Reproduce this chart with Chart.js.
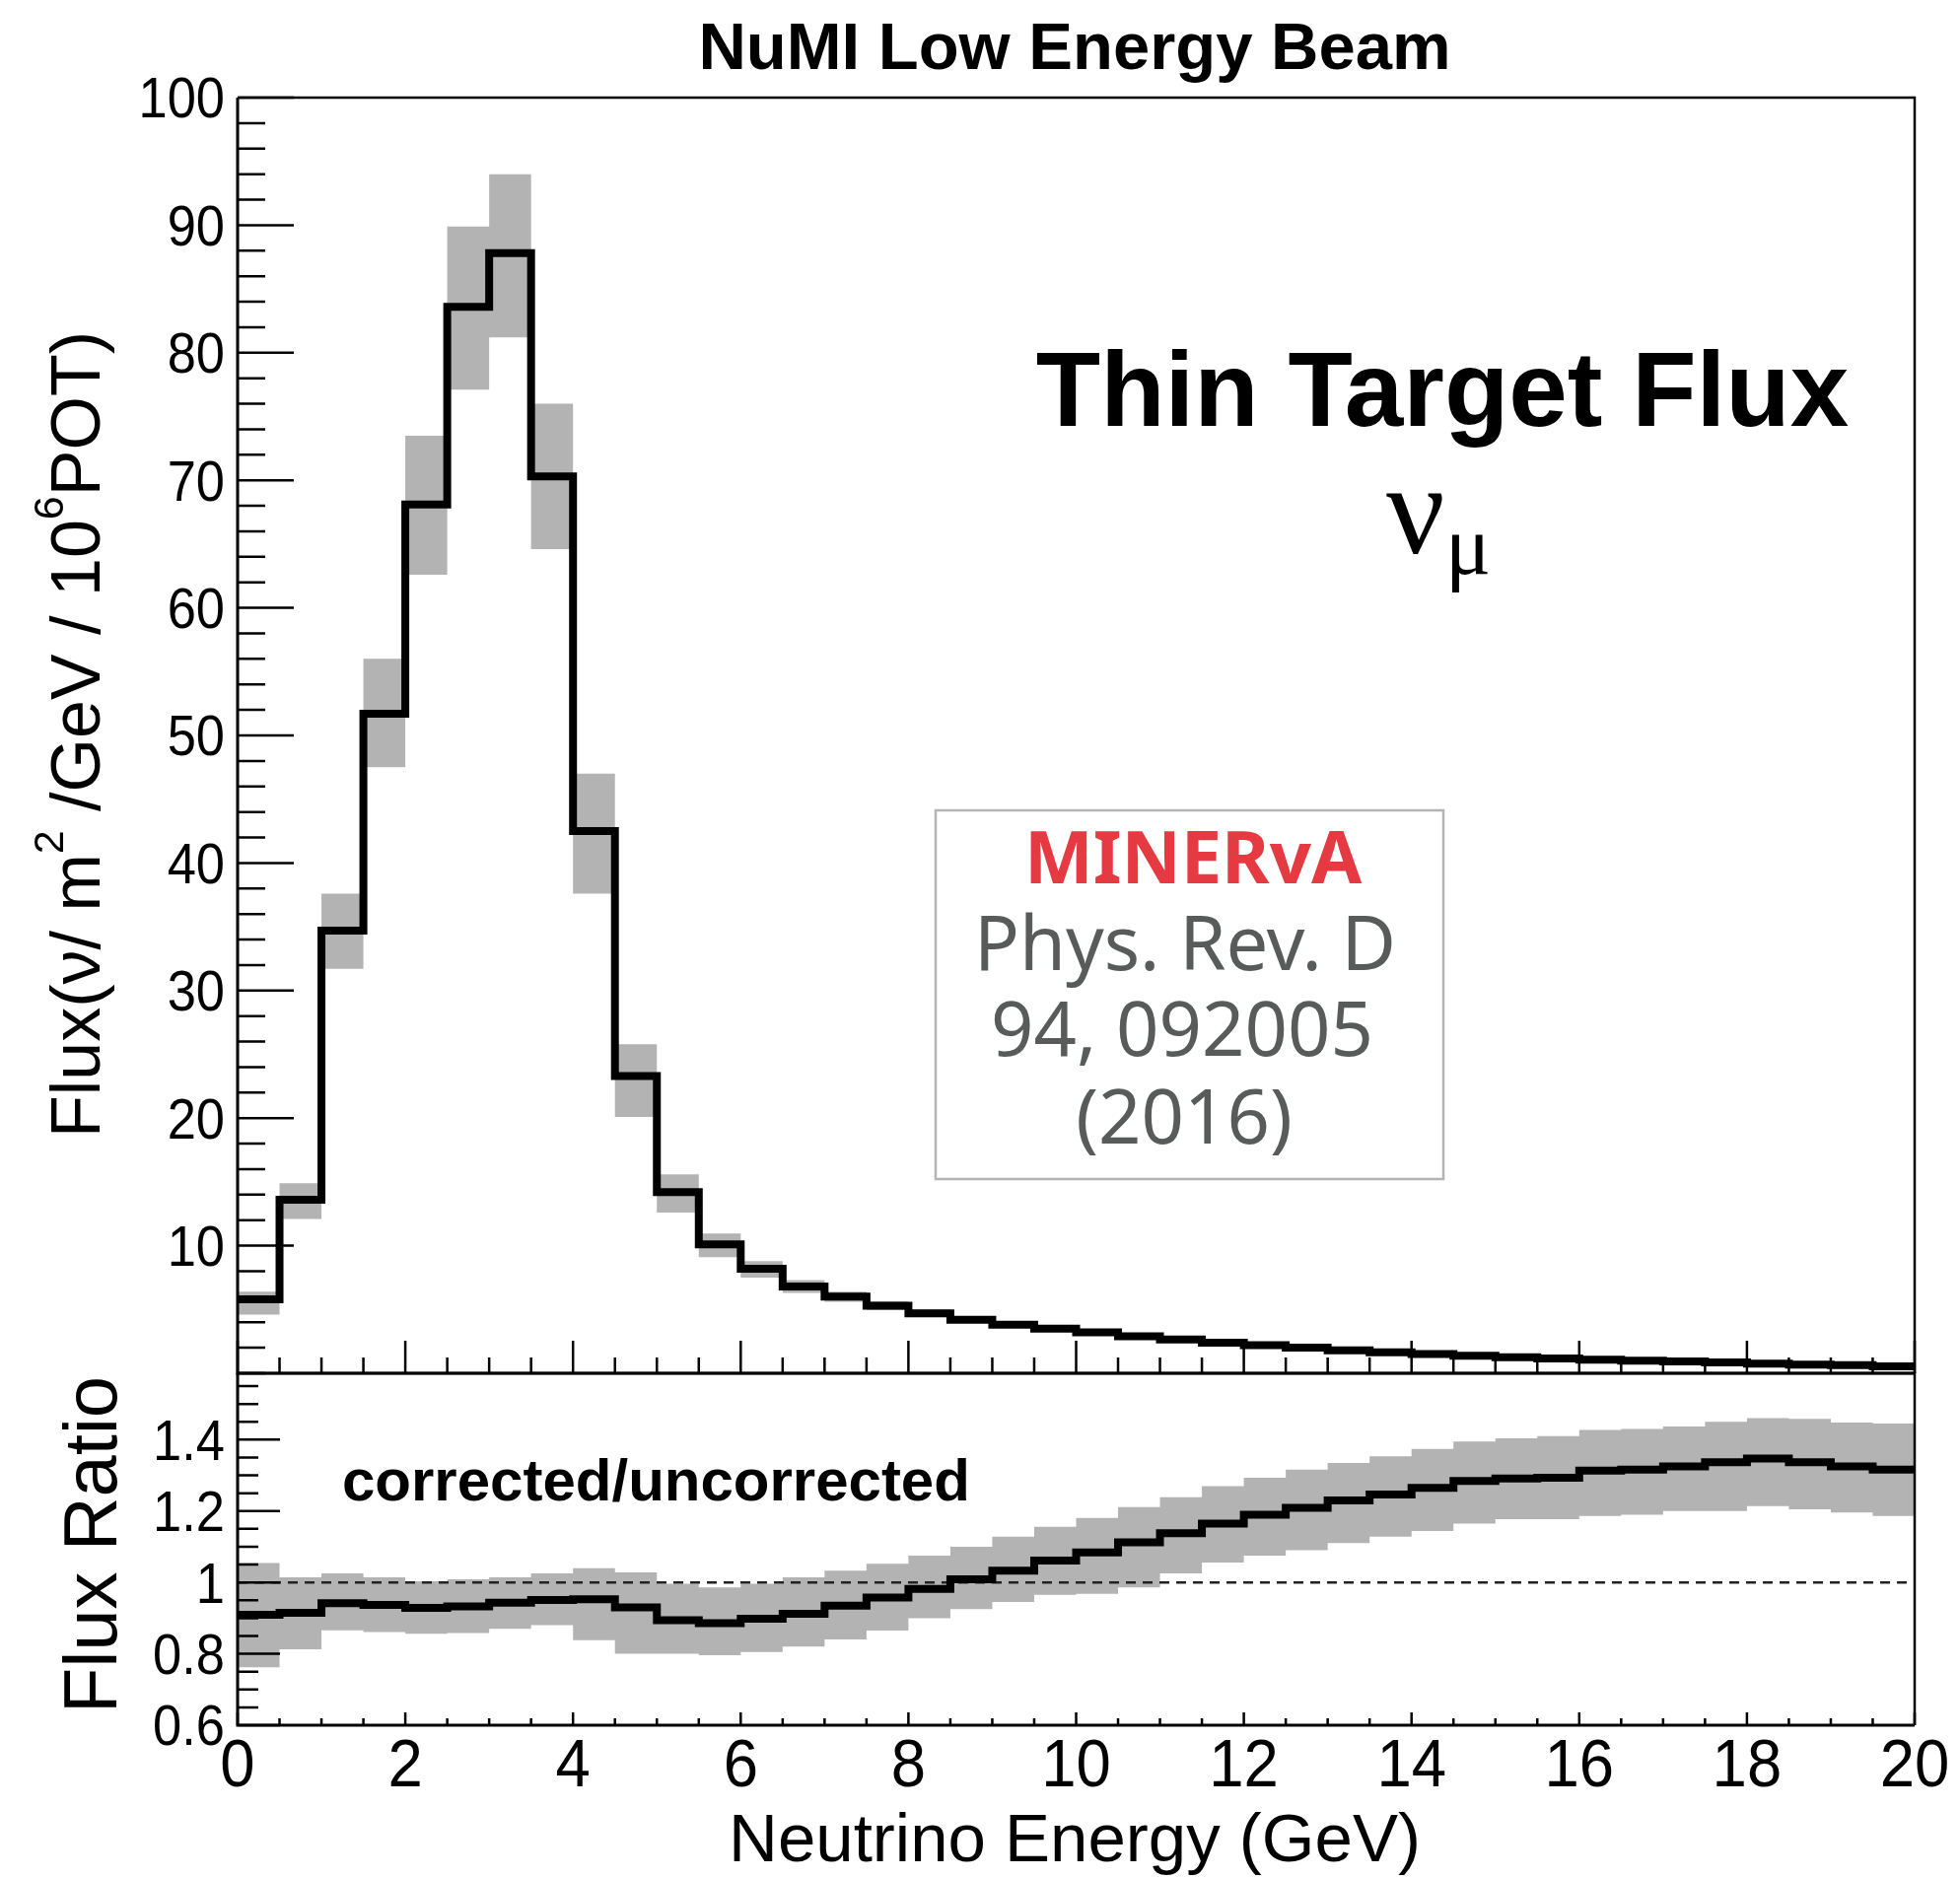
<!DOCTYPE html>
<html>
<head>
<meta charset="utf-8">
<title>NuMI Low Energy Beam</title>
<script src="https://cdn.jsdelivr.net/npm/chart.js@4.4.1/dist/chart.umd.min.js"></script>
<style>
  html, body { margin: 0; padding: 0; background: #fff; overflow: hidden; }
  #wrap { position: relative; width: 1988px; height: 1905px; }
  canvas { position: absolute; left: 0; top: 0; }
</style>
</head>
<body>
<div id="wrap">
  <canvas id="fluxChart" width="1988" height="1905"></canvas>
  <canvas id="ratioChart" width="1988" height="1905"></canvas>
</div>
<script>
// bin edges (GeV), 0.5 GeV bins
const energyEdges = [0, 0.5, 1, 1.5, 2, 2.5, 3, 3.5, 4, 4.5, 5, 5.5, 6, 6.5, 7, 7.5, 8, 8.5, 9, 9.5,
  10, 10.5, 11, 11.5, 12, 12.5, 13, 13.5, 14, 14.5, 15, 15.5, 16, 16.5, 17, 17.5, 18, 18.5, 19, 19.5, 20];

// nu_mu flux per bin, with the error band
const fluxValues = [5.8, 13.6, 34.7, 51.7, 68.1, 83.6, 87.8, 70.3, 42.5, 23.3,
  14.2, 10.1, 8.2, 6.8, 6.0, 5.3, 4.7, 4.2, 3.8, 3.5,
  3.2, 2.9, 2.65, 2.4, 2.2, 2.0, 1.8, 1.65, 1.5, 1.38,
  1.25, 1.15, 1.07, 0.98, 0.92, 0.85, 0.75, 0.68, 0.63, 0.55];
const fluxLow = [4.6, 12.1, 31.7, 47.5, 62.6, 77.1, 81.2, 64.6, 37.6, 20.1,
  12.6, 9.1, 7.5, 6.3, 5.6, 4.95, 4.4, 3.95, 3.6, 3.3,
  3.0, 2.75, 2.5, 2.27, 2.08, 1.9, 1.7, 1.56, 1.42, 1.3,
  1.18, 1.08, 1.0, 0.92, 0.86, 0.79, 0.69, 0.63, 0.58, 0.5];
const fluxHigh = [6.4, 14.9, 37.6, 56.0, 73.5, 89.9, 94.0, 76.0, 47.0, 25.8,
  15.6, 10.95, 8.8, 7.3, 6.4, 5.65, 5.0, 4.45, 4.0, 3.7,
  3.4, 3.05, 2.8, 2.53, 2.32, 2.1, 1.9, 1.74, 1.58, 1.46,
  1.32, 1.22, 1.14, 1.04, 0.98, 0.91, 0.81, 0.73, 0.68, 0.6];

// corrected / uncorrected ratio per bin
const ratioValues = [0.909, 0.915, 0.942, 0.937, 0.929, 0.933, 0.943, 0.951, 0.953, 0.930,
  0.894, 0.886, 0.898, 0.912, 0.935, 0.958, 0.982, 1.009, 1.033, 1.061,
  1.084, 1.112, 1.138, 1.165, 1.190, 1.209, 1.230, 1.246, 1.265, 1.284,
  1.291, 1.293, 1.313, 1.316, 1.325, 1.337, 1.347, 1.337, 1.325, 1.316];
const ratioLow = [0.762, 0.813, 0.866, 0.861, 0.856, 0.858, 0.870, 0.880, 0.838, 0.800,
  0.800, 0.796, 0.805, 0.820, 0.840, 0.865, 0.900, 0.925, 0.945, 0.965,
  0.968, 0.986, 1.025, 1.056, 1.075, 1.090, 1.110, 1.128, 1.144, 1.165,
  1.177, 1.177, 1.186, 1.190, 1.200, 1.200, 1.214, 1.205, 1.196, 1.186];
const ratioHigh = [1.054, 1.014, 1.025, 1.014, 1.003, 1.009, 1.014, 1.025, 1.040, 1.028,
  0.996, 0.986, 0.996, 1.014, 1.033, 1.052, 1.075, 1.100, 1.128, 1.156,
  1.181, 1.211, 1.239, 1.270, 1.293, 1.316, 1.335, 1.353, 1.374, 1.395,
  1.404, 1.410, 1.427, 1.430, 1.437, 1.450, 1.460, 1.458, 1.448, 1.445];
const unityLine = [1, 1];

// axis labels
const energyTicks = [0, 2, 4, 6, 8, 10, 12, 14, 16, 18, 20];
const fluxTicks = [10, 20, 30, 40, 50, 60, 70, 80, 90, 100];
const ratioTicks = [0.6, 0.8, 1, 1.2, 1.4];

const SANS = "'Liberation Sans', Arial, Helvetica, sans-serif";
const BAND = '#b3b3b3';

// histogram -> points at left bin edges, closed at the last edge
// (chart.js 'before' = horizontal run first, then the vertical step)
function stepPoints(vals) {
  const pts = vals.map((v, i) => ({ x: energyEdges[i], y: v }));
  pts.push({ x: energyEdges[vals.length], y: vals[vals.length - 1] });
  return pts;
}

function txt(ctx, s, x, y, font, align, sx, color) {
  ctx.save();
  ctx.font = font;
  ctx.fillStyle = color || '#000';
  ctx.textAlign = align || 'left';
  ctx.textBaseline = 'alphabetic';
  ctx.translate(x, y);
  ctx.scale(sx || 1, 1);
  ctx.fillText(s, 0, 0);
  ctx.restore();
}

// vertical title, read bottom to top; parts may be raised (superscripts)
function vtitle(ctx, parts, x, y) {
  ctx.save();
  ctx.translate(x, y);
  ctx.rotate(-Math.PI / 2);
  ctx.fillStyle = '#000';
  ctx.textBaseline = 'alphabetic';
  ctx.textAlign = 'left';
  let cx = 0;
  for (const p of parts) {
    ctx.font = p.font;
    ctx.fillText(p.t, cx, -(p.rise || 0));
    cx += ctx.measureText(p.t).width;
  }
  ctx.restore();
}

function isMajor(v, list) {
  return list.some(m => Math.abs(m - v) < 1e-6);
}

// ROOT-style frame: inward ticks on left and bottom, labels outside
const frame = {
  id: 'frame',
  afterDatasetsDraw(chart, args, o) {
    const { ctx, chartArea: a, scales: { x, y } } = chart;
    ctx.save();
    ctx.strokeStyle = '#000';
    ctx.lineCap = 'butt';
    ctx.lineWidth = 2.5;
    ctx.beginPath();
    ctx.moveTo(a.left, a.top);
    ctx.lineTo(a.right, a.top);
    ctx.lineTo(a.right, a.bottom);
    ctx.stroke();
    ctx.lineWidth = 3;
    ctx.beginPath();
    ctx.moveTo(a.left, a.top);
    ctx.lineTo(a.left, a.bottom);
    ctx.lineTo(a.right, a.bottom);
    ctx.stroke();

    ctx.lineWidth = 2.5;
    ctx.beginPath();
    const nx = Math.round((x.max - x.min) / o.xStep);
    for (let i = 0; i <= nx; i++) {
      const v = x.min + i * o.xStep;
      const len = isMajor(v, energyTicks) ? o.xLen[0] : o.xLen[1];
      const px = x.getPixelForValue(v);
      ctx.moveTo(px, a.bottom);
      ctx.lineTo(px, a.bottom - len);
    }
    const ny = Math.floor((y.max - y.min) / o.yStep + 1e-6);
    for (let i = 0; i <= ny; i++) {
      const v = y.min + i * o.yStep;
      const len = isMajor(v, o.yMajor) ? o.yLen[0] : o.yLen[1];
      const py = y.getPixelForValue(v);
      ctx.moveTo(a.left, py);
      ctx.lineTo(a.left + len, py);
    }
    ctx.stroke();
    ctx.restore();

    o.yMajor.forEach(v => {
      txt(ctx, String(v), a.left - 13, y.getPixelForValue(v) + 0.358 * 57,
        '57px ' + SANS, 'right', 0.92);
    });
    if (o.xLabels) {
      energyTicks.forEach(v => {
        txt(ctx, String(v), x.getPixelForValue(v), a.bottom + 62, '69px ' + SANS, 'center', 0.92);
      });
    }
  }
};

const fluxText = {
  id: 'fluxText',
  afterDraw(chart) {
    const ctx = chart.ctx;
    txt(ctx, 'NuMI Low Energy Beam', 1090, 70, 'bold 67px ' + SANS, 'center');
    vtitle(ctx, [
      { t: 'Flux(\u03bd/ m', font: '70px ' + SANS },
      { t: '2', font: '43px ' + SANS, rise: 37 },
      { t: ' /GeV / 10', font: '70px ' + SANS },
      { t: '6', font: '43px ' + SANS, rise: 37 },
      { t: 'POT)', font: '70px ' + SANS }
    ], 101, 1154);
    txt(ctx, 'Thin Target Flux', 1463, 432, 'bold 107px ' + SANS, 'center');
    txt(ctx, '\u03bd', 1406, 561, "132px 'Liberation Serif', 'Times New Roman', serif", 'left');
    txt(ctx, '\u03bc', 1466, 582, "86px 'Liberation Serif', 'Times New Roman', serif", 'left');

    ctx.save();
    ctx.strokeStyle = '#b5b5b5';
    ctx.lineWidth = 2.5;
    ctx.strokeRect(949, 822, 515, 374);
    ctx.restore();
    const noto = "'Noto Sans', 'Open Sans', sans-serif";
    txt(ctx, 'MINERvA', 1210, 896, 'bold 74px ' + noto, 'center', 1, '#e63a42');
    txt(ctx, 'Phys. Rev. D', 1202, 984, '76px ' + noto, 'center', 1, '#595b5b');
    txt(ctx, '94, 092005', 1199, 1071, '76px ' + noto, 'center', 1, '#595b5b');
    txt(ctx, '(2016)', 1201, 1160, '76px ' + noto, 'center', 1, '#595b5b');
  }
};

const ratioText = {
  id: 'ratioText',
  afterDraw(chart) {
    const ctx = chart.ctx;
    vtitle(ctx, [{ t: 'Flux Ratio', font: '76px ' + SANS }], 118, 1738);
    txt(ctx, 'Neutrino Energy (GeV)', 1090, 1888, '69px ' + SANS, 'center');
    txt(ctx, 'corrected/uncorrected', 347, 1522, 'bold 60px ' + SANS, 'left');
  }
};

const common = {
  responsive: false,
  maintainAspectRatio: false,
  animation: false,
  devicePixelRatio: 1,
  events: [],
  elements: { point: { radius: 0 }, line: { tension: 0 } }
};

new Chart(document.getElementById('fluxChart'), {
  type: 'line',
  data: {
    datasets: [
      { data: stepPoints(fluxValues), borderColor: '#000', borderWidth: 8, stepped: 'before', fill: false },
      { data: stepPoints(fluxHigh), borderColor: 'rgba(0,0,0,0)', borderWidth: 0, backgroundColor: BAND, stepped: 'before', fill: '+1' },
      { data: stepPoints(fluxLow), borderColor: 'rgba(0,0,0,0)', borderWidth: 0, stepped: 'before', fill: false }
    ]
  },
  options: {
    ...common,
    layout: { padding: { left: 241, right: 46, top: 99, bottom: 512 } },
    scales: {
      x: { type: 'linear', min: 0, max: 20, display: false },
      y: { type: 'linear', min: 0, max: 100, display: false }
    },
    plugins: {
      legend: { display: false },
      tooltip: { enabled: false },
      frame: { xStep: 0.5, xLen: [33, 16], yStep: 2, yLen: [57, 28], yMajor: fluxTicks, xLabels: false }
    }
  },
  plugins: [frame, fluxText]
});

new Chart(document.getElementById('ratioChart'), {
  type: 'line',
  data: {
    datasets: [
      { data: stepPoints(ratioValues), borderColor: '#000', borderWidth: 8, stepped: 'before', fill: false },
      { data: [{ x: 0, y: unityLine[0] }, { x: 20, y: unityLine[1] }], borderColor: '#222', borderWidth: 2.5, borderDash: [10, 7], fill: false },
      { data: stepPoints(ratioHigh), borderColor: 'rgba(0,0,0,0)', borderWidth: 0, backgroundColor: BAND, stepped: 'before', fill: '+1' },
      { data: stepPoints(ratioLow), borderColor: 'rgba(0,0,0,0)', borderWidth: 0, stepped: 'before', fill: false }
    ]
  },
  options: {
    ...common,
    layout: { padding: { left: 241, right: 46, top: 1393, bottom: 155 } },
    scales: {
      x: { type: 'linear', min: 0, max: 20, display: false },
      y: { type: 'linear', min: 0.6, max: 1.586, display: false }
    },
    plugins: {
      legend: { display: false },
      tooltip: { enabled: false },
      frame: { xStep: 0.5, xLen: [13, 7], yStep: 0.05, yLen: [43, 21], yMajor: ratioTicks, xLabels: true }
    }
  },
  plugins: [frame, ratioText]
});
</script>
</body>
</html>
